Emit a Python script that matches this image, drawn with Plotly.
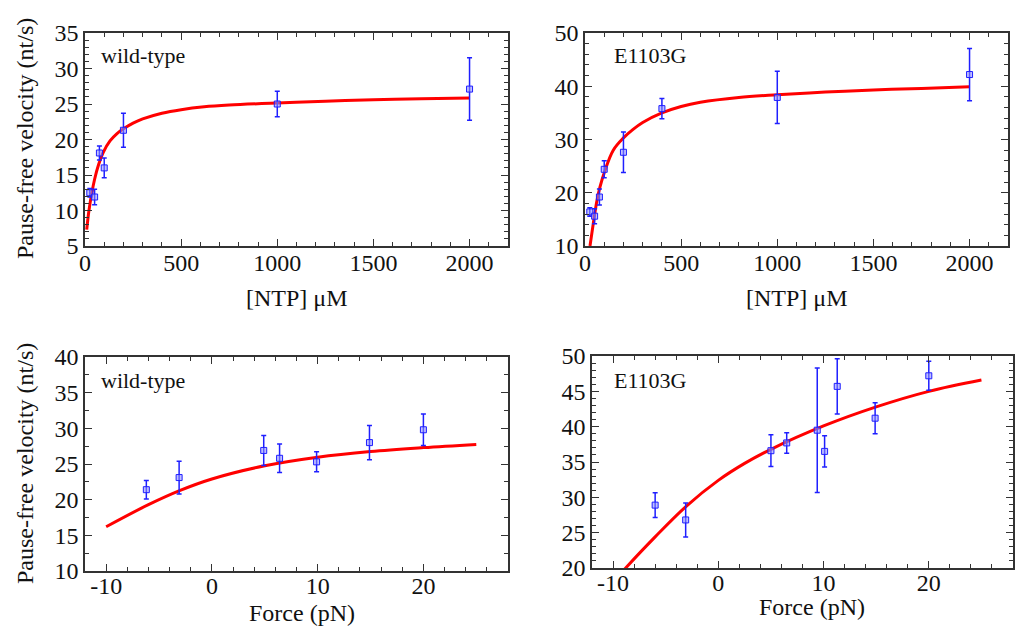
import plotly.graph_objects as go

# ---------------- data ----------------
# Panel A: wild-type, velocity vs [NTP]
ntp_wt = [25, 50, 75, 100, 200, 1000, 2000]
vel_ntp_wt = [12.5, 11.9, 18.1, 16.0, 21.3, 25.0, 27.1]
err_ntp_wt = [0.6, 1.1, 1.0, 1.4, 2.4, 1.8, 4.4]
fit_ntp_wt_x = [9, 20, 35, 50, 70, 95, 130, 165, 200, 250, 300, 400, 500, 620, 750, 1000, 1250, 1500, 1750, 2000]
fit_ntp_wt_y = [7.3, 9.9, 12.4, 14.4, 16.4, 18.2, 19.8, 20.8, 21.5, 22.3, 22.9, 23.7, 24.2, 24.6, 24.85, 25.15, 25.4, 25.6, 25.75, 25.85]

# Panel B: E1103G, velocity vs [NTP]
ntp_mut = [25, 50, 75, 100, 200, 400, 1000, 2000]
vel_ntp_mut = [16.4, 15.6, 19.2, 24.4, 27.6, 35.8, 37.9, 42.2]
err_ntp_mut = [0.8, 1.4, 1.5, 1.6, 3.8, 1.9, 4.9, 4.9]
fit_ntp_mut_x = [26, 43, 61, 78, 104, 147, 200, 250, 300, 400, 500, 600, 800, 1000, 1250, 1500, 1750, 2000]
fit_ntp_mut_y = [10.0, 14.2, 18.3, 21.1, 24.2, 28.0, 30.3, 31.9, 33.2, 35.0, 36.2, 37.0, 37.9, 38.4, 38.9, 39.3, 39.6, 39.9]

# Panel C: wild-type, velocity vs force
force_wt = [-6.2, -3.1, 4.9, 6.4, 9.9, 14.9, 20.0]
vel_f_wt = [21.4, 23.1, 26.9, 25.8, 25.3, 28.0, 29.8]
err_f_wt = [1.3, 2.3, 2.1, 2.0, 1.4, 2.4, 2.2]
fit_f_wt_x = [-10, -6, -3, 0, 5, 10, 15, 20, 25]
fit_f_wt_y = [16.2, 19.3, 21.3, 22.9, 24.75, 25.95, 26.75, 27.3, 27.75]

# Panel D: E1103G, velocity vs force
force_mut = [-6.0, -3.1, 5.0, 6.5, 9.4, 10.1, 11.3, 14.9, 20.0]
vel_f_mut = [28.9, 26.8, 36.6, 37.7, 39.5, 36.5, 45.7, 41.2, 47.2]
err_f_mut = [1.75, 2.4, 2.25, 1.45, 8.8, 2.2, 3.9, 2.2, 2.05]
fit_f_mut_x = [-10, -8.8, -6, -3, 0, 2.5, 5, 10, 15, 20, 25]
fit_f_mut_y = [18.0, 20.0, 24.4, 28.8, 32.4, 34.8, 36.8, 40.1, 42.8, 45.0, 46.6]

# tick labels
ntp_ticks = [0, 500, 1000, 1500, 2000]
force_ticks = [-10, 0, 10, 20]
force_ticktext = ["-10", "0", "10", "20"]

y_title = "Pause-free velocity (nt/s)"
x_titles = ["[NTP] \u03bcM", "[NTP] \u03bcM", "Force (pN)", "Force (pN)"]
labels = ["wild-type", "E1103G", "wild-type", "E1103G"]

# ---------------- styling ----------------
FONT = "Liberation Serif, Times New Roman, Times, DejaVu Serif, serif"
BLUE = "#1f1fff"
MARK_FILL = "rgba(140,140,255,0.55)"
RED = "#ff0000"
FRAME = "#333333"
TXT = "#111111"

fig = go.Figure()

panels = [
    (ntp_wt, vel_ntp_wt, err_ntp_wt, fit_ntp_wt_x, fit_ntp_wt_y),
    (ntp_mut, vel_ntp_mut, err_ntp_mut, fit_ntp_mut_x, fit_ntp_mut_y),
    (force_wt, vel_f_wt, err_f_wt, fit_f_wt_x, fit_f_wt_y),
    (force_mut, vel_f_mut, err_f_mut, fit_f_mut_x, fit_f_mut_y),
]

for i, (x, y, e, fx, fy) in enumerate(panels):
    suffix = "" if i == 0 else str(i + 1)
    fig.add_trace(go.Scatter(
        x=fx, y=fy, mode="lines", line=dict(color=RED, width=3, shape="spline", smoothing=1.0),
        xaxis="x" + suffix, yaxis="y" + suffix, showlegend=False, hoverinfo="skip"))
    fig.add_trace(go.Scatter(
        x=x, y=y, mode="markers",
        marker=dict(symbol="square", size=6, color=MARK_FILL, line=dict(color=BLUE, width=1)),
        error_y=dict(type="data", array=e, visible=True, color=BLUE, thickness=1.5, width=2.5),
        xaxis="x" + suffix, yaxis="y" + suffix, showlegend=False))

W, H = 1015, 633
def dx(a, b):
    return [a / W, b / W]
def dy(top, bottom):
    return [1 - bottom / H, 1 - top / H]

common = dict(showline=True, linecolor=FRAME, linewidth=1.5, mirror="allticks",
              ticks="inside", ticklen=7, tickwidth=1.2, tickcolor=FRAME,
              showgrid=False, zeroline=False,
              tickfont=dict(family=FONT, size=24, color=TXT))

def minor(d):
    return dict(dtick=d, ticks="inside", ticklen=4, tickwidth=1, tickcolor=FRAME, showgrid=False)

ntp_x = dict(range=[0, 2200], tickvals=ntp_ticks, minor=minor(100), ticklabelstandoff=-6)
force_x = dict(range=[-12, 28], tickvals=force_ticks, ticktext=force_ticktext, minor=minor(2),
               ticklabelstandoff=-8)

layout = dict(
    width=W, height=H, margin=dict(l=0, r=0, t=0, b=0, autoexpand=False),
    plot_bgcolor="white", paper_bgcolor="white", showlegend=False,
    font=dict(family=FONT, color=TXT),
    xaxis=dict(domain=dx(85, 508), anchor="y", **ntp_x, **common),
    yaxis=dict(domain=dy(33, 246), range=[5, 35], dtick=5, tick0=0, minor=minor(1), anchor="x", **common),
    xaxis2=dict(domain=dx(585, 1008), anchor="y2", **ntp_x, **common),
    yaxis2=dict(domain=dy(33, 246), range=[10, 50], dtick=10, tick0=0, minor=minor(2), anchor="x2", **common),
    xaxis3=dict(domain=dx(85, 508), anchor="y3", **force_x, **common),
    yaxis3=dict(domain=dy(357, 571), range=[10, 40], dtick=5, tick0=0, minor=minor(2.5), anchor="x3", **common),
    xaxis4=dict(domain=dx(592, 1013), anchor="y4", **force_x, **common),
    yaxis4=dict(domain=dy(356, 568), range=[20, 50], dtick=5, tick0=0, minor=minor(1), anchor="x4", **common),
)
fig.update_layout(**layout)

ann = []
# y-axis titles
for yc in [139, 464]:
    ann.append(dict(text=y_title, x=25 / W, y=1 - yc / H, xref="paper", yref="paper",
                    textangle=-90, showarrow=False, xanchor="center", yanchor="middle",
                    font=dict(family=FONT, size=24, color=TXT)))
# x-axis titles
for t, (xc, yc) in zip(x_titles, [(297, 298), (797, 298), (302, 613), (812, 607)]):
    ann.append(dict(text=t, x=xc / W, y=1 - yc / H, xref="paper", yref="paper",
                    showarrow=False, xanchor="center", yanchor="middle",
                    font=dict(family=FONT, size=24, color=TXT)))
# panel labels
for t, (xl, yc) in zip(labels, [(99, 56), (612, 56), (99, 380), (612, 380)]):
    ann.append(dict(text=t, x=xl / W, y=1 - yc / H, xref="paper", yref="paper",
                    showarrow=False, xanchor="left", yanchor="middle",
                    font=dict(family=FONT, size=22, color=TXT)))
fig.update_layout(annotations=ann)

fig.write_html("out.html", config={"displayModeBar": False},
               post_script="document.body.style.margin='0px';document.body.style.overflow='hidden';")
